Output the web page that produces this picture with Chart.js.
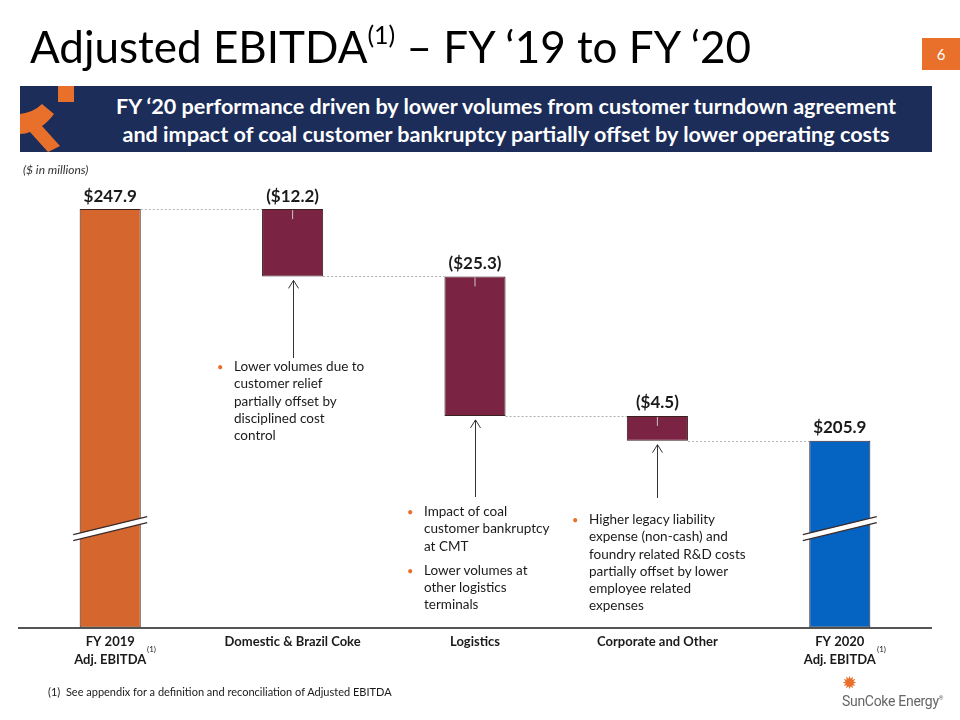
<!DOCTYPE html>
<html>
<head>
  <script src="https://cdn.jsdelivr.net/npm/chart.js"></script>
  <title>Adjusted EBITDA FY '19 to FY '20</title>
  <style>
    body { margin: 0; width: 960px; height: 720px; position: relative; overflow: hidden; background: #fff; font-family: Lato, "Open Sans", sans-serif; color: #1a1a1a; }
    #chart { position: absolute; left: 0; top: 0; }
    .title { position: absolute; left: 30px; top: 20px; font-size: 44px; font-weight: 400; color: #000; white-space: nowrap; }
    .title sup { font-size: 25px; vertical-align: 19px; line-height: 0; }
    .page { position: absolute; left: 922px; top: 38px; width: 38px; height: 32px; background: #e8702a; color: #fff; font-size: 15px; text-align: center; line-height: 32px; }
    .banner { position: absolute; left: 20px; top: 86px; width: 912px; height: 66px; background: #1c2d5a; }
    .banner .txt { position: absolute; left: 60px; right: 0px; top: 6px; color: #fff; font-weight: bold; font-size: 21.6px; line-height: 28px; text-align: center; white-space: nowrap; }
    .units { position: absolute; left: 23px; top: 162px; font-size: 12px; font-style: italic; color: #333; }
    .note { position: absolute; font-size: 13.5px; line-height: 17.3px; color: #1a1a1a; white-space: nowrap; }
    .note .b { position: relative; padding-left: 17px; }
    .note .b::before { content: "\2022"; position: absolute; left: 0; top: 0; color: #e8702a; font-size: 11px; }
    .sup { position: absolute; font-size: 8px; color: #1a1a1a; }
    .foot { position: absolute; left: 48px; top: 685px; font-size: 11px; color: #1a1a1a; }
    .logo { position: absolute; left: 842px; top: 676px; font-family: "Liberation Sans Narrow", "Roboto", sans-serif; color: #666; font-size: 14px; }
    .logo .sun { position: absolute; left: 0; top: -4px; color: #e8702a; font-size: 18px; }
    .logo .name { position: absolute; left: 0; top: 17px; white-space: nowrap; letter-spacing: -0.3px; }
  </style>
</head>
<body>
  <canvas id="chart" width="960" height="720"></canvas>

  <div class="title">Adjusted EBITDA<sup>(1)</sup> – FY ‘19 to FY ‘20</div>
  <div class="page">6</div>
  <div class="banner">
    <svg width="70" height="66" style="position:absolute;left:0;top:0">
      <rect x="38" y="0" width="16" height="16" fill="#e8702a"/>
      <path d="M0 28 Q14 26 22 18 L34 28 Q28 36 22 40 L40 60 L28 66 L10 46 Q6 48 0 48 Z" fill="#e8702a"/>
    </svg>
    <div class="txt">FY ‘20 performance driven by lower volumes from customer turndown agreement<br>and impact of coal customer bankruptcy partially offset by lower operating costs</div>
  </div>
  <div class="units">($ in millions)</div>

  <div class="note" style="left:217px;top:358px">
    <div class="b">Lower volumes due to<br>customer relief<br>partially offset by<br>disciplined cost<br>control</div>
  </div>
  <div class="note" style="left:407px;top:503px">
    <div class="b">Impact of coal<br>customer bankruptcy<br>at CMT</div>
    <div class="b" style="margin-top:7px">Lower volumes at<br>other logistics<br>terminals</div>
  </div>
  <div class="note" style="left:572px;top:511px">
    <div class="b">Higher legacy liability<br>expense (non-cash) and<br>foundry related R&amp;D costs<br>partially offset by lower<br>employee related<br>expenses</div>
  </div>

  <div class="sup" style="left:147px;top:644px">(1)</div>
  <div class="sup" style="left:877px;top:644px">(1)</div>
  <div class="foot">(1)&nbsp; See appendix for a definition and reconciliation of Adjusted EBITDA</div>
  <div class="logo"><span class="sun">✹</span><span class="name">SunCoke Energy<sup style="font-size:6px">®</sup></span></div>

  <script>
    // data ($ in millions)
    const categories = [['FY 2019', 'Adj. EBITDA'], 'Domestic & Brazil Coke', 'Logistics', 'Corporate and Other', ['FY 2020', 'Adj. EBITDA']];
    const values = [247.9, -12.2, -25.3, -4.5, 205.9];
    const kinds = ['total', 'delta', 'delta', 'delta', 'total'];
    const valueLabels = ['$247.9', '($12.2)', '($25.3)', '($4.5)', '$205.9'];

    // axis is broken, it starts well above zero
    const axisMin = 172;
    const axisMax = 253;
    const breakAt = 189.4;

    const colors = { totalStart: '#d5662d', totalEnd: '#0563c1', delta: '#7b2342' };

    // build floating bars from the running total
    let running = 0;
    const floating = values.map((v, i) => {
      if (kinds[i] === 'total') {
        running = v;
        return [axisMin, v];
      }
      const start = running;
      running = running + v;
      return [running, start];
    });
    const barColors = kinds.map((k, i) => k === 'delta' ? colors.delta : (i === 0 ? colors.totalStart : colors.totalEnd));
    // the value where each bar "ends" (for dotted connectors)
    const endLevels = floating.map((f, i) => kinds[i] === 'total' ? f[1] : f[0]);

    const decorations = {
      id: 'decorations',
      afterDatasetsDraw(chart) {
        const ctx = chart.ctx;
        const y = chart.scales.y;
        const bars = chart.getDatasetMeta(0).data;
        ctx.save();

        // dotted connectors
        ctx.strokeStyle = '#b0b0b0';
        ctx.lineWidth = 1;
        ctx.setLineDash([2, 2]);
        for (let i = 0; i < bars.length - 1; i++) {
          const yy = Math.round(y.getPixelForValue(endLevels[i])) + 0.5;
          ctx.beginPath();
          ctx.moveTo(bars[i].x + bars[i].width / 2, yy);
          ctx.lineTo(bars[i + 1].x - bars[i + 1].width / 2, yy);
          ctx.stroke();
        }
        ctx.setLineDash([]);

        // small grey tick at the top of the delta bars
        ctx.strokeStyle = '#c8c8c8';
        bars.forEach((b, i) => {
          if (kinds[i] !== 'delta') return;
          const top = y.getPixelForValue(floating[i][1]);
          ctx.beginPath();
          ctx.moveTo(b.x, top + 1);
          ctx.lineTo(b.x, top + 10);
          ctx.stroke();
        });

        // axis break slashes on the total bars
        const by = y.getPixelForValue(breakAt);
        bars.forEach((b, i) => {
          if (kinds[i] !== 'total') return;
          const x0 = b.x - 37, x1 = b.x + 37;
          ctx.beginPath();
          ctx.moveTo(x0, by + 9);
          ctx.lineTo(x1, by - 9);
          ctx.lineTo(x1, by - 15);
          ctx.lineTo(x0, by + 3);
          ctx.closePath();
          ctx.fillStyle = '#fff';
          ctx.fill();
          ctx.strokeStyle = '#3a2a2a';
          ctx.lineWidth = 1.2;
          ctx.beginPath();
          ctx.moveTo(x0, by + 9); ctx.lineTo(x1, by - 9);
          ctx.moveTo(x0, by + 3); ctx.lineTo(x1, by - 15);
          ctx.stroke();
        });

        // value labels
        ctx.fillStyle = '#1a1a1a';
        ctx.font = 'bold 17px Lato, "Open Sans", sans-serif';
        ctx.textAlign = 'center';
        ctx.textBaseline = 'middle';
        bars.forEach((b, i) => {
          const top = y.getPixelForValue(floating[i][1]);
          ctx.fillText(valueLabels[i], b.x, top - 13);
        });

        // arrows from the notes up to the delta bars
        const noteTops = [358, 497, 498];
        ctx.strokeStyle = '#333';
        ctx.lineWidth = 1;
        let n = 0;
        bars.forEach((b, i) => {
          if (kinds[i] !== 'delta') return;
          const tip = y.getPixelForValue(floating[i][0]) + 4;
          const x = Math.round(b.x) + 0.5;
          ctx.beginPath();
          ctx.moveTo(x, noteTops[n++]);
          ctx.lineTo(x, tip);
          ctx.moveTo(x - 5, tip + 8);
          ctx.lineTo(x, tip);
          ctx.lineTo(x + 5, tip + 8);
          ctx.stroke();
        });
        ctx.restore();
      }
    };

    new Chart(document.getElementById('chart'), {
      type: 'bar',
      data: {
        labels: categories,
        datasets: [{
          data: floating,
          backgroundColor: barColors,
          borderColor: '#3b2020',
          borderWidth: 1,
          borderSkipped: false,
          barPercentage: 0.335,
          categoryPercentage: 1
        }]
      },
      options: {
        responsive: false,
        animation: false,
        layout: { padding: { left: 19, right: 29, top: 181, bottom: 46 } },
        plugins: { legend: { display: false }, tooltip: { enabled: false } },
        scales: {
          x: {
            grid: { display: false, drawTicks: false },
            border: { display: true, color: '#555', width: 2 },
            ticks: {
              padding: 5,
              color: '#1a1a1a',
              font: { family: 'Lato, "Open Sans", sans-serif', size: 13, weight: 'bold', lineHeight: 1.4 },
              maxRotation: 0,
              autoSkip: false
            }
          },
          y: {
            display: false,
            min: axisMin,
            max: axisMax
          }
        }
      },
      plugins: [decorations]
    });
  </script>
</body>
</html>
